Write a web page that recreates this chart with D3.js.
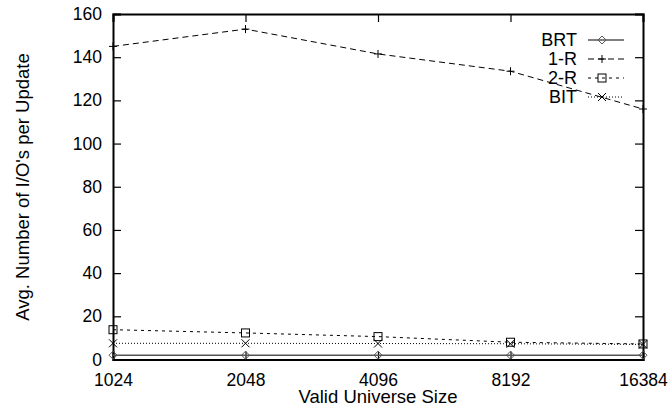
<!DOCTYPE html>
<html><head><meta charset="utf-8">
<script src="https://cdn.jsdelivr.net/npm/d3@7"></script>
<style>body{margin:0;background:#fff}svg text{font-family:"Liberation Sans",Arial,sans-serif}</style>
</head><body><svg id="c" width="668" height="410"></svg>
<script>
const sizes = [1024, 2048, 4096, 8192, 16384];
const brt = [2, 2, 2, 2, 2];
const oneR = [145, 153, 141.5, 133.5, 116];
const twoR = [13.8, 12.3, 10.6, 8.0, 7.2];
const bit = [7.5, 7.5, 7.4, 7.3, 7.0];
const yTicks = [0, 20, 40, 60, 80, 100, 120, 140, 160];
const seriesNames = ["BRT", "1-R", "2-R", "BIT"];

const svg = d3.select("#c");
const L = 113, R = 643, T = 14, B = 359.5;
const x = d3.scaleLog().base(2).domain([1024, 16384]).range([L, R]);
const y = d3.scaleLinear().domain([0, 160]).range([B, T]);

const series = [
  {name: seriesNames[0], vals: brt, dash: null, color: "#555", marker: "diamond"},
  {name: seriesNames[1], vals: oneR, dash: "6,4", color: "#000", marker: "plus"},
  {name: seriesNames[2], vals: twoR, dash: "3,4", color: "#000", marker: "square"},
  {name: seriesNames[3], vals: bit, dash: "1,2", color: "#000", marker: "cross"}
];

// axes
const tl = 8;
const gL = svg.append("g").attr("transform", `translate(${L},0)`)
  .call(d3.axisLeft(y).tickValues(yTicks).tickSize(-tl).tickPadding(11));
const gR = svg.append("g").attr("transform", `translate(${R},0)`)
  .call(d3.axisRight(y).tickValues(yTicks).tickSize(-tl).tickFormat(""));
const gB = svg.append("g").attr("transform", `translate(0,${B})`)
  .call(d3.axisBottom(x).tickValues(sizes).tickSize(-tl).tickFormat(d3.format("d")));
const gT = svg.append("g").attr("transform", `translate(0,${T})`)
  .call(d3.axisTop(x).tickValues(sizes).tickSize(-tl).tickFormat(""));
[gL, gR, gB, gT].forEach(g => {
  g.select(".domain").attr("stroke", "#000").attr("stroke-width", 2);
  g.selectAll(".tick line").attr("stroke", "#000").attr("stroke-width", 1.2);
  g.selectAll("text").attr("font-size", 17.5).attr("fill", "#000")
    .attr("font-family", '"Liberation Sans",Arial,sans-serif');
});
gB.selectAll("text").attr("y", 26.5).attr("dy", 0);

svg.append("text").attr("x", (L + R) / 2).attr("y", 403).attr("text-anchor", "middle")
  .attr("font-size", 18.5).text("Valid Universe Size");
svg.append("text").attr("transform", `translate(29,187) rotate(-90)`)
  .attr("text-anchor", "middle").attr("font-size", 18.5).text("Avg. Number of I/O's per Update");

function marker(g, type, cx, cy, color) {
  const s = 4;
  if (type === "diamond") {
    g.append("path").attr("d", `M${cx},${cy - s}L${cx + s},${cy}L${cx},${cy + s}L${cx - s},${cy}Z`)
      .attr("fill", "none").attr("stroke", color).attr("stroke-width", 1);
  } else if (type === "plus") {
    g.append("path").attr("d", `M${cx - s},${cy}H${cx + s}M${cx},${cy - s}V${cy + s}`)
      .attr("stroke", color).attr("stroke-width", 1);
  } else if (type === "square") {
    g.append("rect").attr("x", cx - s).attr("y", cy - s).attr("width", 2 * s).attr("height", 2 * s)
      .attr("fill", "none").attr("stroke", color).attr("stroke-width", 1);
  } else {
    g.append("path").attr("d", `M${cx - s},${cy - s}L${cx + s},${cy + s}M${cx - s},${cy + s}L${cx + s},${cy - s}`)
      .attr("stroke", color).attr("stroke-width", 1);
  }
}

const line = d3.line().x((d, i) => x(sizes[i])).y(d => y(d));
const plot = svg.append("g");
series.forEach(s => {
  plot.append("path").datum(s.vals).attr("d", line).attr("fill", "none")
    .attr("stroke", s.color).attr("stroke-width", s.dash ? 1 : 1.5)
    .attr("stroke-dasharray", s.dash);
  s.vals.forEach((v, i) => marker(plot, s.marker, x(sizes[i]), y(v), s.color));
});

// legend
const lg = svg.append("g");
series.forEach((s, i) => {
  const ly = 40 + i * 19;
  lg.append("text").attr("x", 577).attr("y", ly).attr("dy", "0.35em").attr("text-anchor", "end")
    .attr("font-size", 18).text(s.name);
  lg.append("line").attr("x1", 588).attr("x2", 624).attr("y1", ly).attr("y2", ly)
    .attr("stroke", s.color).attr("stroke-width", s.dash ? 1 : 1.5).attr("stroke-dasharray", s.dash);
  marker(lg, s.marker, 602, ly, s.color);
});
</script></body></html>
